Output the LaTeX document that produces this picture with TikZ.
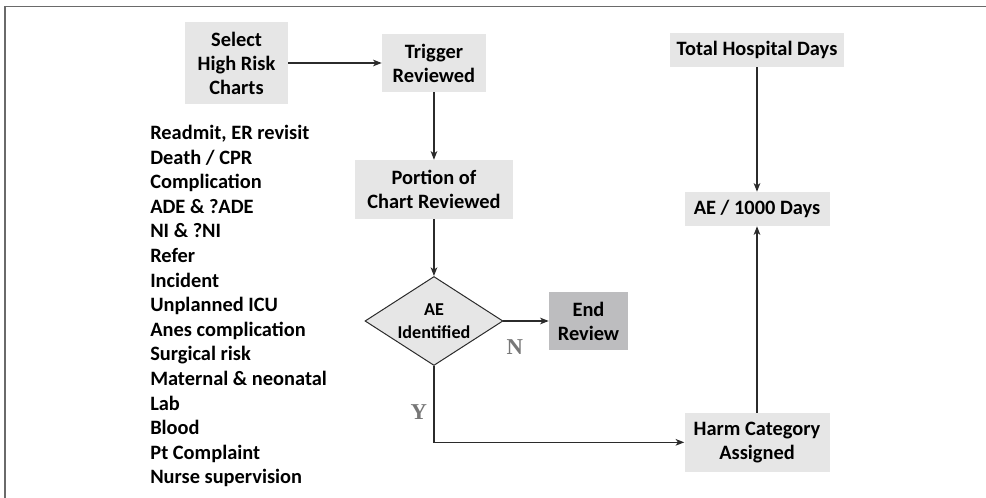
\documentclass[tikz,border=0pt]{standalone}
\usepackage{fontspec}
\setmainfont{Carlito}
\newfontfamily\yesnofont{Liberation Serif}
\usetikzlibrary{shapes.geometric, arrows.meta}

\definecolor{boxgray}{HTML}{E6E6E6}
\definecolor{endgray}{HTML}{BDBDBF}
\definecolor{linegray}{HTML}{2B2B2B}
\definecolor{framegray}{HTML}{6A6A6A}
\definecolor{ynlabel}{HTML}{777777}

\begin{document}
\begin{tikzpicture}[x=0.75pt, y=-0.75pt, >={Stealth[length=6.5pt, width=5pt, inset=1.8pt]},
			every node/.style={font=\fontsize{15.3}{18}\selectfont\bfseries, align=center},
			stepbox/.style={fill=boxgray, inner sep=0pt},
			decide/.style={diamond, draw=linegray, fill=boxgray, line width=0.75pt, inner sep=0pt,
				minimum width=103.5pt, minimum height=66.75pt, aspect=1.55, font=\fontsize{13.6}{17}\selectfont\bfseries},
			yn/.style={font=\fontsize{17}{17}\selectfont\bfseries\yesnofont, text=ynlabel},
			link/.style={->, draw=linegray, line width=0.8pt}
			]
			\useasboundingbox (0,0) rectangle (986,498);
			
			% kader
			\draw[framegray, line width=1.1pt] (5,498) -- (5,6.5) -- (986,6.5);
			
			% linker kolom: selectie en review
			\node[stepbox, minimum width=77.25pt, minimum height=61.5pt] (Select) at (236.5,63) {Select\\High Risk\\Charts};
			\node[stepbox, minimum width=78pt, minimum height=43.5pt] (Trigger) [right of=Select, node distance=148.1pt] {Trigger\\Reviewed};
			\node[stepbox, minimum width=118pt, minimum height=44.25pt] (Portion) [below of=Trigger, node distance=94.9pt] {Portion of\\Chart Reviewed};
			\node[decide] (AE) [below of=Portion, node distance=98.6pt] {AE\\Identified};
			\node[stepbox, fill=endgray, minimum width=59.25pt, minimum height=43.5pt] (End) [right of=AE, node distance=115.9pt] {End\\Review};
			
			% lijst met triggers
			\node[anchor=north west, inner sep=0pt, align=left, font=\fontsize{15.3}{18.45}\selectfont\bfseries] (Triggers) at (150,125) {Readmit, ER revisit\\Death / CPR\\Complication\\ADE \& ?ADE\\NI \& ?NI\\Refer\\Incident\\Unplanned ICU\\Anes complication\\Surgical risk\\Maternal \& neonatal\\Lab\\Blood\\Pt Complaint\\Nurse supervision};
			
			% rechter kolom: tarief
			\node[stepbox, minimum width=130.5pt, minimum height=25.5pt] (Total) at (757,50) {Total Hospital Days};
			\node[stepbox, minimum width=108.75pt, minimum height=25.5pt] (Rate) [below of=Total, node distance=119.25pt] {AE / 1000 Days};
			\node[stepbox, minimum width=108.75pt, minimum height=44.25pt] (Harm) [below of=Rate, node distance=175pt] {Harm Category\\Assigned};
			
			% pijlen
			\draw[link] (Select) -- (Trigger);
			\draw[link] (Trigger) -- (Portion);
			\draw[link] (Portion) -- (AE);
			\draw[link] (AE) -- node[yn, pos=0.25, below=10pt] {N} (End);
			\draw[link] (AE.south) |- node[yn, pos=0.3, left=1.5pt] {Y} (Harm.west);
			\draw[link] (Total) -- (Rate);
			\draw[link] (Harm) -- (Rate);
			
		\end{tikzpicture}
\end{document}
